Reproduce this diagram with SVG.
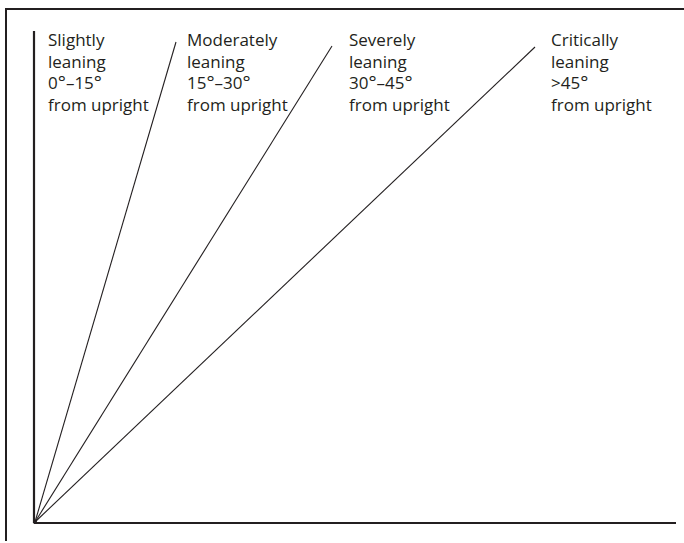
<svg xmlns="http://www.w3.org/2000/svg" width="684" height="543" viewBox="0 0 684 543">
  <style>
    .frame { stroke: #231f20; stroke-width: 2; fill: none; }
    .axis { stroke: #231f20; stroke-width: 2.2; fill: none; }
    .lean { stroke: #231f20; stroke-width: 1.1; fill: none; }
    .label { font-family: "Open Sans", "Noto Sans", "Liberation Sans", sans-serif; font-size: 17px; fill: #231f20; }
    .deg { font-size: 19px; }
  </style>
  <rect width="684" height="543" fill="#ffffff"/>

  <!-- frame (top and left edges) -->
  <path class="frame" d="M6 9 H684 M6 8 V541"/>

  <!-- axes and lean lines -->
  <g id="connectors">
    <path class="axis" d="M34 523 V31"/>
    <path class="axis" d="M34 523 H676"/>
    <path class="lean" d="M35 522 L176 42"/>
    <path class="lean" d="M35 522 L332 46"/>
    <path class="lean" d="M35 522 L535 47"/>
    <circle cx="35" cy="522" r="2" fill="#231f20"/>
  </g>

  <g id="slight">
    <text class="label">
      <tspan x="48" y="46">Slightly</tspan>
      <tspan x="48" y="67.5">leaning</tspan>
      <tspan x="48" y="89">0<tspan class="deg">°</tspan>–15<tspan class="deg">°</tspan></tspan>
      <tspan x="48" y="110.5">from upright</tspan>
    </text>
  </g>

  <g id="moderate">
    <text class="label">
      <tspan x="187" y="46">Moderately</tspan>
      <tspan x="187" y="67.5">leaning</tspan>
      <tspan x="187" y="89">15<tspan class="deg">°</tspan>–30<tspan class="deg">°</tspan></tspan>
      <tspan x="187" y="110.5">from upright</tspan>
    </text>
  </g>

  <g id="severe">
    <text class="label">
      <tspan x="349" y="46">Severely</tspan>
      <tspan x="349" y="67.5">leaning</tspan>
      <tspan x="349" y="89">30<tspan class="deg">°</tspan>–45<tspan class="deg">°</tspan></tspan>
      <tspan x="349" y="110.5">from upright</tspan>
    </text>
  </g>

  <g id="critical">
    <text class="label">
      <tspan x="551" y="46">Critically</tspan>
      <tspan x="551" y="67.5">leaning</tspan>
      <tspan x="551" y="89">&gt;45<tspan class="deg">°</tspan></tspan>
      <tspan x="551" y="110.5">from upright</tspan>
    </text>
  </g>
</svg>
